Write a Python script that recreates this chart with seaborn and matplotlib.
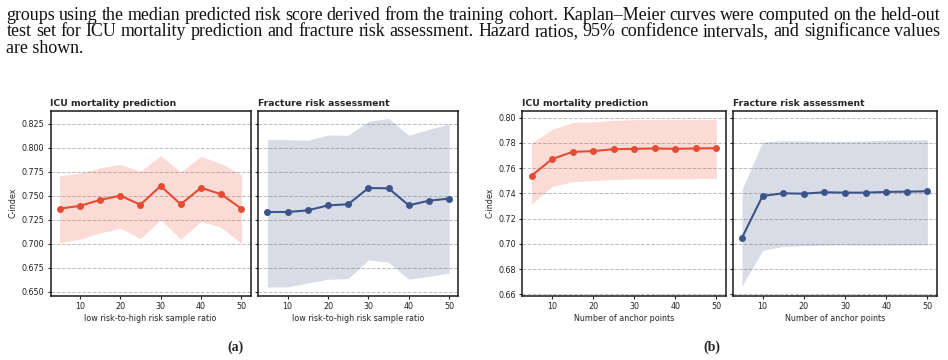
import matplotlib
matplotlib.use("Agg")
import matplotlib.pyplot as plt
import seaborn as sns

# ─── DATA ───────────────────────────────────────────────────────
ratio = [5, 10, 15, 20, 25, 30, 35, 40, 45, 50]
anchors = [5, 10, 15, 20, 25, 30, 35, 40, 45, 50]

# (a) low-to-high risk sample ratio
icu_ratio_mean = [0.7366, 0.7394, 0.7456, 0.7501, 0.7407, 0.7602, 0.7411, 0.7584, 0.7515, 0.7366]
icu_ratio_hi   = [0.7706, 0.7737, 0.7789, 0.7827, 0.7754, 0.7917, 0.7747, 0.7910, 0.7834, 0.7720]
icu_ratio_lo   = [0.7012, 0.7047, 0.7113, 0.7161, 0.7054, 0.7251, 0.7047, 0.7234, 0.7172, 0.7002]

frac_ratio_mean = [0.7331, 0.7331, 0.7348, 0.7400, 0.7411, 0.7581, 0.7577, 0.7400, 0.7449, 0.7470]
frac_ratio_hi   = [0.8084, 0.8084, 0.8077, 0.8132, 0.8129, 0.8274, 0.8305, 0.8129, 0.8191, 0.8247]
frac_ratio_lo   = [0.6551, 0.6551, 0.6593, 0.6631, 0.6638, 0.6832, 0.6808, 0.6631, 0.6662, 0.6697]

# (b) number of anchor points
icu_anchor_mean = [0.7540, 0.7672, 0.7729, 0.7735, 0.7750, 0.7753, 0.7756, 0.7753, 0.7756, 0.7758]
icu_anchor_hi   = [0.7800, 0.7905, 0.7963, 0.7966, 0.7979, 0.7984, 0.7984, 0.7984, 0.7984, 0.7984]
icu_anchor_lo   = [0.7317, 0.7454, 0.7493, 0.7501, 0.7511, 0.7514, 0.7514, 0.7514, 0.7517, 0.7517]

frac_anchor_mean = [0.7049, 0.7380, 0.7401, 0.7398, 0.7409, 0.7406, 0.7406, 0.7412, 0.7414, 0.7417]
frac_anchor_hi   = [0.7427, 0.7808, 0.7818, 0.7816, 0.7813, 0.7813, 0.7816, 0.7821, 0.7823, 0.7826]
frac_anchor_lo   = [0.6666, 0.6949, 0.6981, 0.6986, 0.6989, 0.6991, 0.6991, 0.6991, 0.6991, 0.6994]

ratio_yticks = [0.650, 0.675, 0.700, 0.725, 0.750, 0.775, 0.800, 0.825]
anchor_yticks = [0.66, 0.68, 0.70, 0.72, 0.74, 0.76, 0.78, 0.80]
xticks = [10, 20, 30, 40, 50]

caption_lines = [
    "groups using the median predicted risk score derived from the training cohort. Kaplan\u2013Meier curves were computed on the held-out",
    "test set for ICU mortality prediction and fracture risk assessment. Hazard ratios, 95% confidence intervals, and significance values",
    "are shown.",
]

RED = "#E64B35"
BLUE = "#3C5488"
# ────────────────────────────────────────────────────────────────

sns.set_style("white")
plt.rcParams["font.family"] = ["DejaVu Sans"]

W, H = 948, 360
fig = plt.figure(figsize=(W / 100, H / 100), dpi=100)


def px_axes(left, right, top=110.7, bottom=295.7):
    return fig.add_axes([left / W, 1 - bottom / H, (right - left) / W, (bottom - top) / H])


def draw_panel(ax, x, mean, lo, hi, color, title, xlabel, yticks, fmt, ylim, show_y):
    ax.fill_between(x, lo, hi, color=color, alpha=0.2, linewidth=0)
    sns.lineplot(x=x, y=mean, ax=ax, color=color, marker="o", markersize=5,
                 markeredgewidth=0, linewidth=1.5)
    ax.set_xlim(2.75, 52.25)
    ax.set_ylim(*ylim)
    ax.set_xticks(xticks)
    ax.set_yticks(yticks)
    ax.set_yticklabels([fmt.format(v) for v in yticks])
    ax.yaxis.grid(True, linestyle="--", color="#bcbcbc", linewidth=0.7)
    ax.xaxis.grid(False)
    ax.tick_params(axis="both", which="major", direction="out", length=2.5, width=0.8,
                   labelsize=5.8, pad=2, colors="#222222", left=True, bottom=True)
    if not show_y:
        ax.tick_params(axis="y", labelleft=False)
        ax.set_ylabel("")
    else:
        ax.set_ylabel("C-index", fontsize=5.8, labelpad=3)
    ax.set_xlabel(xlabel, fontsize=5.8, labelpad=2)
    ax.set_title(title, loc="left", fontsize=6.7, fontweight="bold", pad=3.5)
    for s in ax.spines.values():
        s.set_visible(True)
        s.set_color("#1a1a1a")
        s.set_linewidth(1.1)


ratio_lim = (0.646, 0.8385)
anchor_lim = (0.659, 0.8055)

ax1 = px_axes(50.5, 250.5)
ax2 = px_axes(258.3, 458.3)
ax3 = px_axes(522.3, 725.7)
ax4 = px_axes(732.7, 936.7)

draw_panel(ax1, ratio, icu_ratio_mean, icu_ratio_lo, icu_ratio_hi, RED,
           "ICU mortality prediction", "low risk-to-high risk sample ratio",
           ratio_yticks, "{:.3f}", ratio_lim, True)
draw_panel(ax2, ratio, frac_ratio_mean, frac_ratio_lo, frac_ratio_hi, BLUE,
           "Fracture risk assessment", "low risk-to-high risk sample ratio",
           ratio_yticks, "{:.3f}", ratio_lim, False)
draw_panel(ax3, anchors, icu_anchor_mean, icu_anchor_lo, icu_anchor_hi, RED,
           "ICU mortality prediction", "Number of anchor points",
           anchor_yticks, "{:.2f}", anchor_lim, True)
draw_panel(ax4, anchors, frac_anchor_mean, frac_anchor_lo, frac_anchor_hi, BLUE,
           "Fracture risk assessment", "Number of anchor points",
           anchor_yticks, "{:.2f}", anchor_lim, False)

# caption text, sized to fill the line and justified like the paper page
renderer = fig.canvas.get_renderer()
serif = ["Liberation Serif", "DejaVu Serif"]
x_left, x_right = 6.5, 940.5
probe = fig.text(0, 0, caption_lines[1], family=serif, fontsize=10)
cap_size = 10 * (x_right - x_left) / probe.get_window_extent(renderer).width
probe.remove()

cap_kw = dict(family=serif, fontsize=cap_size, color="#111111", va="baseline", ha="left")
baselines = [19.5, 36.5, 53.0]
for i, (line, base) in enumerate(zip(caption_lines, baselines)):
    words = line.split(" ")
    y = 1 - base / H
    if i == len(caption_lines) - 1:
        fig.text(x_left / W, y, line, **cap_kw)
        continue
    texts = [fig.text(0, y, w_, **cap_kw) for w_ in words]
    widths = [t.get_window_extent(renderer).width for t in texts]
    gap = (x_right - x_left - sum(widths)) / (len(words) - 1)
    xpos = x_left
    for t, wd in zip(texts, widths):
        t.set_x(xpos / W)
        xpos += wd + gap

fig.text(235 / W, 1 - 347 / H, "(a)", family=serif,
         fontweight="bold", fontsize=10, ha="center", va="center")
fig.text(712 / W, 1 - 347 / H, "(b)", family=serif,
         fontweight="bold", fontsize=10, ha="center", va="center")

fig.savefig("out.png", dpi=100)
